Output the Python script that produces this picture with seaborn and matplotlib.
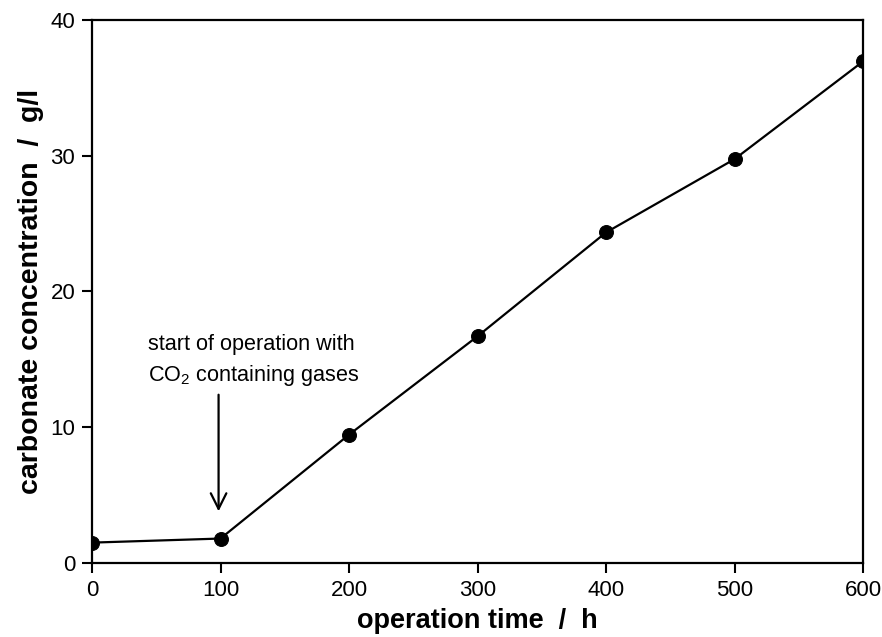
import matplotlib
matplotlib.use("Agg")
import matplotlib.pyplot as plt
import seaborn as sns
import pandas as pd

# Operation time (h) and measured carbonate concentration (g/l)
time_h = [0, 100, 200, 300, 400, 500, 600]
carbonate_gl = [1.5, 1.8, 9.45, 16.7, 24.35, 29.75, 36.95]

x_ticks = [0, 100, 200, 300, 400, 500, 600]
y_ticks = [0, 10, 20, 30, 40]

df = pd.DataFrame({"time": time_h, "carbonate": carbonate_gl})

sns.set_theme(style="ticks")
plt.rcParams["font.family"] = ["Liberation Sans", "DejaVu Sans"]
plt.rcParams["mathtext.fontset"] = "custom"
plt.rcParams["mathtext.rm"] = "Liberation Sans"
plt.rcParams["mathtext.it"] = "Liberation Sans"
plt.rcParams["text.color"] = "black"
plt.rcParams["axes.labelcolor"] = "black"

fig = plt.figure(figsize=(8.82, 6.37), dpi=100)
ax = fig.add_axes([0.1043, 0.1162, 0.8742, 0.8524])

sns.lineplot(data=df, x="time", y="carbonate", ax=ax, color="black",
             linewidth=1.6, marker="o", markersize=10,
             markeredgecolor="black", markerfacecolor="black")

ax.set_xlim(0, 600)
ax.set_ylim(0, 40)
ax.set_xticks(x_ticks)
ax.set_yticks(y_ticks)
ax.tick_params(axis="both", direction="out", length=7, width=1.5,
               labelsize=16, colors="black", pad=5)
for s in ax.spines.values():
    s.set_linewidth(1.6)
    s.set_color("black")
    s.set_visible(True)

ax.set_xlabel("operation time  /  h", fontsize=19.5, fontweight="bold", labelpad=5)
ax.set_ylabel("carbonate concentration  /  g/l", fontsize=20.5,
              fontweight="bold", labelpad=5)

ax.text(43.5, 16.9, "start of operation with", fontsize=15.6,
        ha="left", va="top", color="black")
ax.text(43.5, 14.7, "CO$_2$ containing gases", fontsize=15.6,
        ha="left", va="top", color="black")
ax.annotate("", xy=(98.5, 3.6), xytext=(98.5, 12.6),
            arrowprops=dict(arrowstyle="->", color="black", lw=1.6,
                            mutation_scale=28))

fig.savefig("out.png", dpi=100)
